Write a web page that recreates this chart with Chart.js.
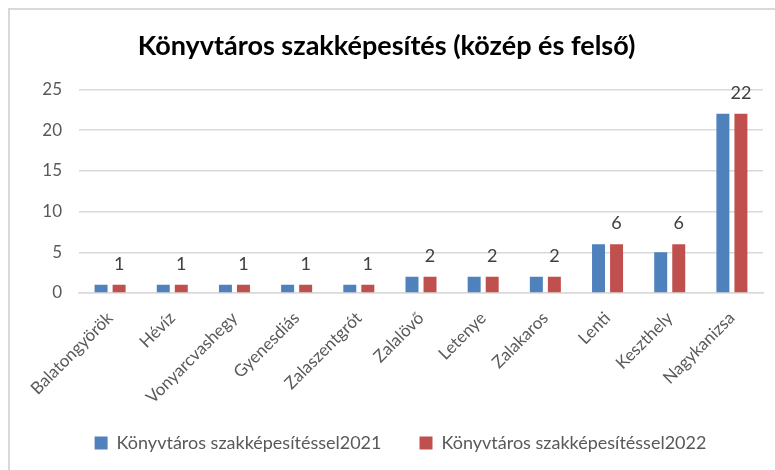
<!DOCTYPE html>
<html>
<head>
<meta charset="utf-8">
<script src="https://cdn.jsdelivr.net/npm/chart.js@4"></script>
<style>
html,body{margin:0;padding:0;background:#fff;}
#wrap{width:775px;height:470px;position:relative;}
</style>
</head>
<body>
<div id="wrap"><canvas id="c" width="775" height="470"></canvas></div>
<script>
const categories = ["Balatongyörök","Hévíz","Vonyarcvashegy","Gyenesdiás","Zalaszentgrót","Zalalövő","Letenye","Zalakaros","Lenti","Keszthely","Nagykanizsa"];
const values2021 = [1,1,1,1,1,2,2,2,6,5,22];
const values2022 = [1,1,1,1,1,2,2,2,6,6,22];
const seriesNames = ["Könyvtáros szakképesítéssel2021","Könyvtáros szakképesítéssel2022"];
const titleText = "Könyvtáros szakképesítés (közép és felső)";
const yTicks = [0,5,10,15,20,25];

const FONT = "Lato, 'Liberation Sans', sans-serif";

const borderPlugin = {
  id: 'frame',
  beforeDraw(chart){
    const ctx = chart.ctx;
    ctx.save();
    ctx.strokeStyle = '#d9d9d9';
    ctx.lineWidth = 2;
    ctx.beginPath();
    ctx.moveTo(9, 470);
    ctx.lineTo(9, 9);
    ctx.lineTo(775, 9);
    ctx.stroke();
    ctx.restore();
  }
};

const layoutTweak = {
  id: 'layoutTweak',
  afterLayout(chart){
    if (chart.legend) { chart.legend.left += 14; chart.legend.right += 14; }
    // let the rotated category labels run below the axis box without being clipped
    if (chart.scales.x) { chart.scales.x.bottom += 30; }
  }
};

const labelPlugin = {
  id: 'valueLabels',
  afterDatasetsDraw(chart){
    const ctx = chart.ctx;
    const meta = chart.getDatasetMeta(1);
    ctx.save();
    ctx.font = "18px " + FONT;
    ctx.fillStyle = '#404040';
    ctx.textAlign = 'center';
    ctx.textBaseline = 'middle';
    meta.data.forEach((bar, i) => {
      ctx.fillText(String(values2022[i]), bar.x, bar.y - 21);
    });
    ctx.restore();
  }
};

new Chart(document.getElementById('c'), {
  type: 'bar',
  data: {
    labels: categories,
    datasets: [
      {label: seriesNames[0], data: values2021, backgroundColor: '#4f81bd', categoryPercentage: 0.58, barPercentage: 0.72},
      {label: seriesNames[1], data: values2022, backgroundColor: '#c0504d', categoryPercentage: 0.58, barPercentage: 0.72}
    ]
  },
  options: {
    responsive: false,
    animation: false,
    devicePixelRatio: 1,
    layout: {padding: {left: 10, right: 12, top: 30, bottom: 8}},
    plugins: {
      title: {
        display: true,
        text: titleText,
        color: '#000',
        font: {family: FONT, size: 27, weight: 'bold'},
        padding: {top: 0, bottom: 27}
      },
      legend: {
        position: 'bottom',
        labels: {
          color: '#595959',
          font: {family: FONT, size: 18},
          boxWidth: 13, boxHeight: 13,
          padding: 38
        }
      },
      tooltip: {enabled: false}
    },
    scales: {
      x: {
        grid: {display: false, drawTicks: false},
        border: {display: true, color: '#d9d9d9', width: 1.5},
        ticks: {
          color: '#595959',
          font: {family: FONT, size: 17},
          minRotation: 45, maxRotation: 45,
          padding: 15,
          autoSkip: false
        },
        afterFit(s){ s.height = 103; }
      },
      y: {
        min: 0, max: 25,
        afterBuildTicks(s){ s.ticks = yTicks.map(v => ({value: v})); },
        grid: {color: '#d9d9d9', lineWidth: 1.5, drawTicks: false},
        border: {display: false},
        ticks: {
          color: '#595959',
          font: {family: FONT, size: 17},
          padding: 17
        },
        afterFit(s){ s.width = 69; }
      }
    }
  },
  plugins: [borderPlugin, layoutTweak, labelPlugin]
});
</script>
</body>
</html>
